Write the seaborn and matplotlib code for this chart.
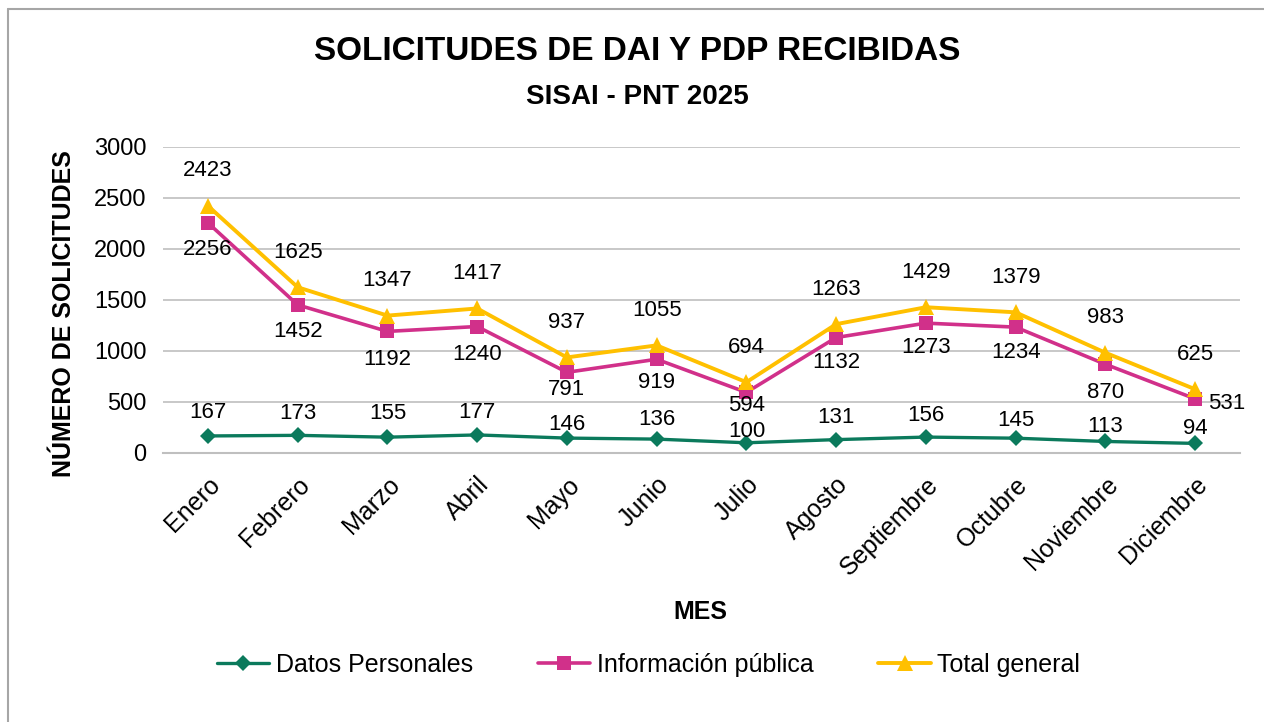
"""Solicitudes de DAI y PDP recibidas por mes, SISAI - PNT 2025."""

import matplotlib

matplotlib.use("Agg")

import matplotlib.pyplot as plt
import pandas as pd
import seaborn as sns
from matplotlib.lines import Line2D

MONTHS = ["Enero", "Febrero", "Marzo", "Abril", "Mayo", "Junio", "Julio",
          "Agosto", "Septiembre", "Octubre", "Noviembre", "Diciembre"]
DATOS_PERSONALES = [167, 173, 155, 177, 146, 136, 100, 131, 156, 145, 113, 94]
INFO_PUBLICA = [2256, 1452, 1192, 1240, 791, 919, 594, 1132, 1273, 1234, 870, 531]
TOTAL_GENERAL = [2423, 1625, 1347, 1417, 937, 1055, 694, 1263, 1429, 1379, 983, 625]

# label offsets in pixels (how the original workbook placed them)
DATOS_LABEL_DY = [23, 22, 24, 22, 14, 20, 11, 22, 22, 18, 15, 15]
INFO_LABEL_DY = [-27, -27, -28, -28, -17, -23, -13, -25, -24, -25, -28, -5]
TOTAL_LABEL_DY = 35

GREEN = "#0B7A5C"
MAGENTA = "#D1308A"
GOLD = "#FFC000"
GRID = "#BFBFBF"

sns.set_theme(style="white")
plt.rcParams["font.family"] = ["Liberation Sans", "DejaVu Sans"]
plt.rcParams["text.color"] = "black"
plt.rcParams["xtick.color"] = "black"
plt.rcParams["ytick.color"] = "black"

df = pd.DataFrame({
    "idx": range(len(MONTHS)),
    "mes": MONTHS,
    "datos": DATOS_PERSONALES,
    "info": INFO_PUBLICA,
    "total": TOTAL_GENERAL,
})

fig = plt.figure(figsize=(12.64, 7.22), dpi=100)
ax = fig.add_axes([0.129, 0.3726, 0.852, 0.4238])

series = [
    ("datos", "Datos Personales", GREEN, "D", 8.5, 2.4),
    ("info", "Información pública", MAGENTA, "s", 10, 2.6),
    ("total", "Total general", GOLD, "^", 11.5, 2.8),
]
for col, label, color, marker, msize, lw in series:
    sns.lineplot(data=df, x="idx", y=col, ax=ax, color=color, marker=marker,
                 markersize=msize, markeredgewidth=0, linewidth=lw, label=label,
                 legend=False)

for i, row in df.iterrows():
    ax.annotate(f"{row['total']}", (row["idx"], row["total"]), xytext=(0, TOTAL_LABEL_DY),
                textcoords="offset pixels", ha="center", va="center", fontsize=16)
    if i == len(df) - 1:
        ax.annotate(f"{row['info']}", (row["idx"], row["info"]), xytext=(13, INFO_LABEL_DY[i]),
                    textcoords="offset pixels", ha="left", va="center", fontsize=16)
    else:
        ax.annotate(f"{row['info']}", (row["idx"], row["info"]), xytext=(0, INFO_LABEL_DY[i]),
                    textcoords="offset pixels", ha="center", va="center", fontsize=16)
    ax.annotate(f"{row['datos']}", (row["idx"], row["datos"]), xytext=(0, DATOS_LABEL_DY[i]),
                textcoords="offset pixels", ha="center", va="center", fontsize=16)

ax.set_xlim(-0.5, len(MONTHS) - 0.5)
ax.set_ylim(0, 3000)
ax.set_yticks(range(0, 3001, 500))
ax.tick_params(axis="y", labelsize=17, length=0, pad=12)
ax.set_xticks(range(len(MONTHS)))
ax.set_xticklabels(MONTHS, rotation=45, ha="right", rotation_mode="anchor", fontsize=18)
ax.tick_params(axis="x", length=0, pad=14)
ax.grid(axis="y", color=GRID, linewidth=1.2)
ax.set_axisbelow(True)
ax.set_xlabel("")
ax.set_ylabel("")
for side in ["top", "right", "left"]:
    ax.spines[side].set_visible(False)
ax.spines["bottom"].set_color(GRID)
ax.spines["bottom"].set_linewidth(1.5)

fig.text(0.504, 0.928, "SOLICITUDES DE DAI Y PDP RECIBIDAS", ha="center", va="center",
         fontsize=24, fontweight="bold")
fig.text(0.504, 0.866, "SISAI - PNT 2025", ha="center", va="center",
         fontsize=20, fontweight="bold")
fig.text(0.051, 0.566, "NÚMERO DE SOLICITUDES", ha="center", va="center", rotation=90,
         fontsize=18, fontweight="bold")
fig.text(0.554, 0.152, "MES", ha="center", va="center", fontsize=18, fontweight="bold")

handles, labels = ax.get_legend_handles_labels()
fig.legend(handles, labels, loc="center", bbox_to_anchor=(0.513, 0.079), ncol=3, frameon=False,
           fontsize=18, handlelength=2.1, handletextpad=0.25, columnspacing=2.6)

# chart frame, only the top and left edges are visible in the capture
fig.add_artist(Line2D([0.006, 1.0], [0.9875, 0.9875], color="#A6A6A6", linewidth=1.5))
fig.add_artist(Line2D([0.006, 0.006], [0.0, 0.9875], color="#A6A6A6", linewidth=1.5))

fig.savefig("out.png", dpi=100)
